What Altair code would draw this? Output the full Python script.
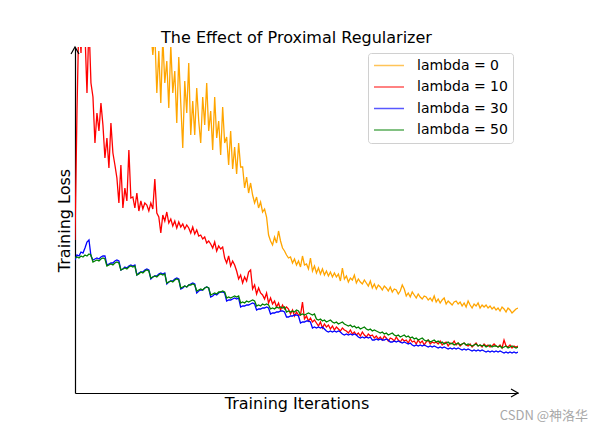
import altair as alt
import pandas as pd

labels = ["lambda = 0", "lambda = 10", "lambda = 30", "lambda = 50"]
colors = ["orange", "red", "blue", "green"]

# training loss per logged iteration (arbitrary loss units), 223 logged points each
orange = [
    520, 480, 505, 460, 490, 470, 440, 475, 450, 430, 465, 420, 445, 410, 435, 400, 425, 395, 415, 390,
    405, 380, 410, 375, 395, 370, 390, 365, 385, 360, 375, 355, 380, 358, 370, 352, 365, 355, 362,
    338,
    360, 300, 342, 290, 355, 310, 332, 285, 348, 300,
    322, 270, 336, 290, 245, 312, 280, 330, 258,
    292, 258, 305, 272, 250, 296, 268, 310, 262,
    282, 243, 296, 255, 272, 238, 286, 250,
    256, 228, 262, 224, 246, 219, 250, 226,
    226, 205, 216, 200, 210,
    198, 190, 196, 185, 191, 181, 184,
    176, 158,
    152, 148, 156, 150, 162,
    152, 145, 142, 138,
    135,
    136, 130, 134, 128, 132, 126, 137, 128,
    129, 124, 135, 122, 127, 120, 125, 119, 124, 118, 122, 117, 121, 116, 120,
    116, 119, 112, 125, 114, 117, 111, 115, 113, 118, 110, 114, 111, 109, 113,
    110, 107, 112, 105, 109, 104, 108, 106, 103, 107, 105, 102, 106, 101, 104,
    103, 99, 102, 108, 104, 97, 100, 96, 101, 98, 95, 99, 96, 94, 97,
    96, 93, 95, 92, 97, 91, 94, 90, 93, 95, 89, 92, 90, 88, 91,
    92, 89, 91, 87, 90, 86, 92, 88, 85, 89, 87, 90, 85, 88, 86,
    88, 85, 87, 84, 86, 83, 85, 82, 86, 84, 81, 85, 83, 80, 82, 84, 85,
]

red = [
    153, 283, 380, 340, 400, 360, 300, 370, 310,
    296, 250, 280, 262, 290,
    268, 235, 255, 225, 270, 240, 228,
    215, 190, 228, 185, 205, 192, 243, 195,
    196, 185, 200, 182, 192, 184, 190,
    188, 182, 190, 184, 214,
    180, 176, 160, 178, 172, 181,
    170, 174, 167, 172, 165, 171, 166, 169, 164, 168,
    165, 160, 166, 159, 163, 157,
    158, 154, 156, 150, 152,
    149, 145, 151, 142, 147, 144, 146,
    135, 130, 137, 127, 132, 128,
    122, 114, 118, 110, 116, 112, 121,
    123, 104, 108, 99, 105, 100,
    98, 94, 100, 90, 95, 89,
    92, 86, 90, 83, 88, 84, 86,
    84, 79, 83, 77, 81, 78,
    78, 91, 74, 77, 72, 75, 71, 73,
    70, 67, 71, 65, 69, 66, 68, 64, 67, 63, 66, 64, 62, 65, 63,
    62, 60, 63, 59, 61, 58, 60, 57, 61, 58, 56, 59, 57, 58, 55,
    57, 54, 56, 53, 57, 55, 52, 55, 54, 52, 56, 53, 51, 54, 52,
    53, 50, 54, 51, 52, 49, 53, 50, 52, 48, 51, 53, 49, 51, 50,
    51, 49, 52, 48, 50, 51, 47, 50, 49, 52, 48, 50, 47, 49, 50,
    48, 47, 49, 46, 48, 50, 47, 48, 46, 49, 47, 48, 46, 47, 49,
    47, 46, 48, 45, 53, 47, 46, 48, 45, 47, 46, 47,
]

blue = [
    133, 138, 137, 141, 140, 145, 151, 153, 137,
    133, 134, 135, 134, 136, 137, 137,
    128, 129, 130, 130, 132, 133, 132,
    123, 124, 126, 125, 127, 128, 127, 128,
    118, 120, 121, 121, 123, 124, 123,
    114, 116, 117, 117, 119, 120, 119, 120,
    109, 111, 112, 112, 114, 115, 114,
    104, 105, 107, 106, 108, 109, 110, 109,
    100, 102, 103, 103, 105, 106, 105,
    96, 97, 99, 98, 100, 101, 101, 100,
    92, 93, 93, 94, 95, 94, 95,
    86, 87, 87, 88, 88, 89, 90, 89,
    83, 84, 84, 85, 85, 86, 85,
    79, 80, 80, 81, 81, 82, 82, 81,
    76, 76, 77, 77, 78, 78, 77,
    70, 71, 71, 72, 72, 71, 65, 66,
    65, 66, 65, 66, 64, 62, 61, 62, 61, 62, 61, 62, 61, 59, 58,
    59, 58, 59, 58, 59, 58, 56, 55, 56, 55, 56, 55, 56, 53, 53,
    54, 53, 54, 53, 53, 54, 53, 51, 51, 52, 51, 52, 51, 50, 51,
    50, 49, 50, 48, 47, 48, 47, 48, 47, 48, 47, 46, 47, 46, 47,
    46, 45, 46, 45, 46, 45, 44, 45, 44, 45, 44, 45, 44, 43, 44,
    43, 44, 43, 42, 43, 42, 43, 42, 43, 42, 41, 42, 41, 42, 41,
    42, 41, 42, 41, 40, 41, 40, 41, 40, 41, 40, 41,
]

green = [
    135, 136, 135, 137, 136, 138, 137, 139, 138,
    131, 132, 133, 132, 134, 135, 134,
    127, 128, 129, 128, 130, 131, 130,
    123, 124, 125, 124, 126, 127, 126, 127,
    118, 119, 121, 120, 122, 123, 122,
    115, 116, 117, 116, 118, 119, 118, 119,
    110, 111, 112, 111, 113, 114, 113,
    105, 106, 107, 106, 108, 108, 109, 108,
    102, 103, 104, 103, 105, 106, 105,
    98, 99, 100, 99, 101, 101, 102, 101,
    95, 96, 95, 96, 97, 96, 97,
    90, 91, 90, 92, 91, 92, 93, 92,
    87, 88, 87, 89, 88, 89, 88,
    84, 85, 84, 86, 85, 86, 85, 86,
    81, 82, 81, 82, 81, 83, 82,
    78, 79, 78, 79, 80, 79, 78, 79,
    74, 73, 74, 72, 73, 71, 72, 73, 71, 70, 71, 69, 70, 71, 69,
    68, 67, 68, 66, 67, 65, 66, 64, 65, 66, 64, 63, 64, 62, 63,
    62, 61, 60, 61, 59, 60, 58, 59, 60, 58, 57, 58, 56, 57, 58,
    56, 57, 55, 56, 54, 55, 53, 54, 55, 53, 52, 53, 51, 52, 53,
    51, 52, 50, 51, 49, 50, 51, 49, 50, 48, 49, 50, 48, 49, 50,
    48, 49, 48, 47, 48, 49, 47, 48, 47, 48, 46, 47, 48, 46, 47,
    47, 46, 47, 45, 46, 47, 45, 46, 47, 46, 45, 46,
]

rows = []
for lab, ser in zip(labels, [orange, red, blue, green]):
    for i, v in enumerate(ser):
        rows.append({"iteration": i, "loss": v, "series": lab})
df = pd.DataFrame(rows)

W, H = 443, 346
FONT = "DejaVu Sans"

axis_common = dict(ticks=False, labels=False, grid=False, domainColor="black",
                   domainWidth=1.2, titleFontSize=16, titleFont=FONT,
                   titleFontWeight="normal", titleColor="black")

lines = alt.Chart(df).mark_line(clip=True, strokeWidth=1.3).encode(
    x=alt.X("iteration:Q", scale=alt.Scale(domain=[0, 222], nice=False, zero=False),
            axis=alt.Axis(title="Training Iterations", titlePadding=2, **axis_common)),
    y=alt.Y("loss:Q", scale=alt.Scale(domain=[0, 346], nice=False),
            axis=alt.Axis(title="Training Loss", titlePadding=3, **axis_common)),
    color=alt.Color("series:N", scale=alt.Scale(domain=labels, range=colors),
                    legend=alt.Legend(orient="none", legendX=293, legendY=6, title=None,
                                      symbolType="stroke", symbolSize=900,
                                      symbolStrokeWidth=1.5, symbolOpacity=0.65,
                                      labelFontSize=14, labelFont=FONT, labelColor="black",
                                      labelOffset=12, clipHeight=15, rowPadding=6.5,
                                      padding=5, strokeColor="#d0d0d0", fillColor="white",
                                      cornerRadius=3)),
)

one = pd.DataFrame({"k": [0]})
y_arrow = alt.Chart(one).mark_point(shape="M-0.57,1L0,0L0.57,1", size=196, filled=False,
                                    color="black", strokeWidth=1.2, opacity=1).encode(
    x=alt.value(0), y=alt.value(0))
x_arrow = alt.Chart(one).mark_point(shape="M-1,-0.57L0,0L-1,0.57", size=196, filled=False,
                                    color="black", strokeWidth=1.2, opacity=1).encode(
    x=alt.value(W), y=alt.value(H))

mark_txt = alt.Chart(one).mark_text(text="CSDN @神洛华", align="right", baseline="alphabetic",
                                    fontSize=13, font="Noto Sans CJK SC", color="#a8a8a8").encode(
    x=alt.value(588 - 75), y=alt.value(420 - 47))

chart = alt.layer(lines, y_arrow, x_arrow, mark_txt).properties(
    width=W, height=H,
    title=alt.TitleParams("The Effect of Proximal Regularizer", fontSize=16, font=FONT,
                          fontWeight="normal", anchor="middle", color="black", offset=-1),
    autosize="none",
    padding={"left": 67, "top": 39, "right": 78, "bottom": 30},
).configure_view(stroke=None)

chart.save("out.html", embed_options={"renderer": "svg", "actions": False})
